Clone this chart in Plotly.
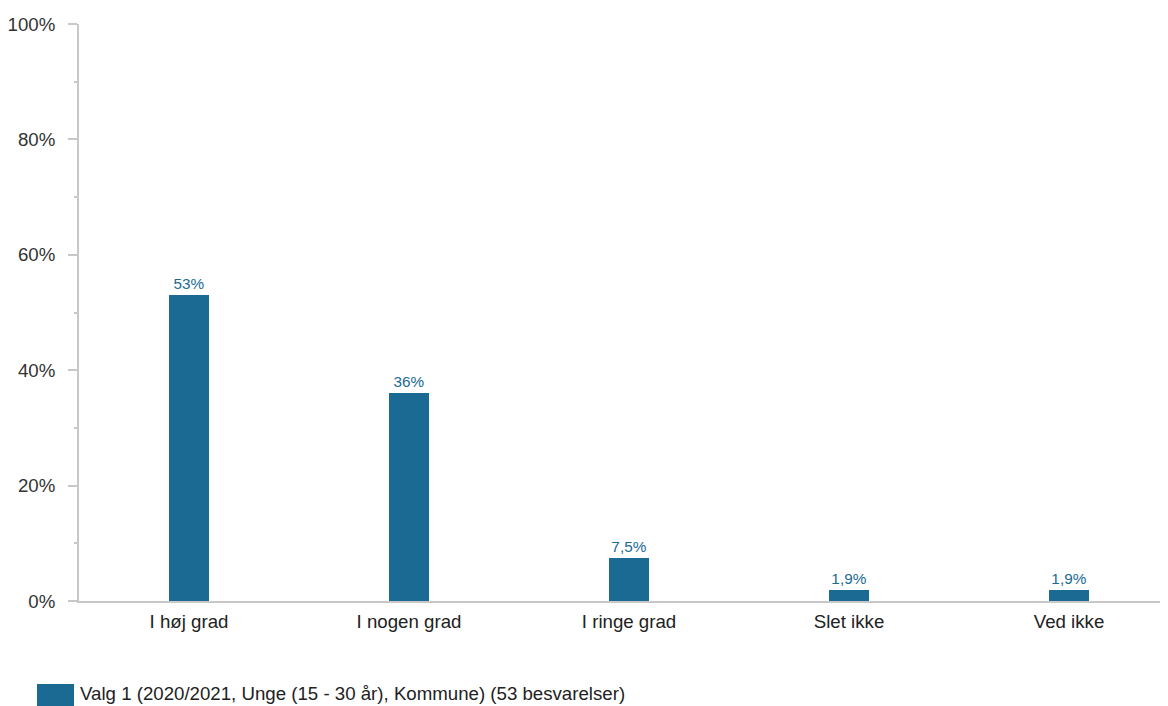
import plotly.graph_objects as go

categories = ["I høj grad", "I nogen grad", "I ringe grad", "Slet ikke", "Ved ikke"]
values = [53, 36, 7.5, 1.9, 1.9]
value_labels = ["53%", "36%", "7,5%", "1,9%", "1,9%"]
series_name = "Valg 1 (2020/2021, Unge (15 - 30 år), Kommune) (53 besvarelser)"
y_ticks = [0, 20, 40, 60, 80, 100]
y_tick_labels = ["0%", "20%", "40%", "60%", "80%", "100%"]

bar_color = "#1b6a93"
axis_color = "#c8c8c8"
font_family = "Liberation Sans, Arial, sans-serif"

# The page body adds an 8px offset, so the figure is 8px smaller and shifted.
OFF = 8
FIG_W, FIG_H = 1168 - OFF, 706 - OFF
PLOT_L, PLOT_R, PLOT_T, PLOT_B = 79 - OFF, 1168 - OFF, 24 - OFF, 601 - OFF
PW, PH = PLOT_R - PLOT_L, PLOT_B - PLOT_T

fig = go.Figure()
fig.add_trace(go.Bar(
    x=categories,
    y=values,
    name=series_name,
    marker=dict(color=bar_color, line=dict(width=0)),
    width=0.186,
    text=value_labels,
    textposition="outside",
    textfont=dict(color=bar_color, size=15.3, family=font_family),
    cliponaxis=False,
    showlegend=False,
))

fig.update_layout(
    width=FIG_W,
    height=FIG_H,
    margin=dict(l=PLOT_L, r=FIG_W - PLOT_R, t=PLOT_T, b=FIG_H - PLOT_B, autoexpand=False),
    plot_bgcolor="white",
    paper_bgcolor="white",
    font=dict(family=font_family, size=18.67, color="#333333"),
    bargap=0,
)

fig.update_xaxes(
    range=[-0.5, 4.45],
    automargin=False,
    showline=True,
    linecolor=axis_color,
    linewidth=2,
    showgrid=False,
    ticks="",
    ticklabelstandoff=3,
    tickfont=dict(size=18.67, color="#222222"),
    zeroline=False,
)

fig.update_yaxes(
    range=[0, 100],
    automargin=False,
    tickvals=y_ticks,
    ticktext=y_tick_labels,
    showline=True,
    linecolor=axis_color,
    linewidth=2,
    showgrid=False,
    zeroline=False,
    ticks="outside",
    ticklen=9,
    tickwidth=2,
    tickcolor=axis_color,
    ticklabelstandoff=9,
    tickfont=dict(size=18.67, color="#333333"),
    minor=dict(ticks="outside", ticklen=3, tickwidth=2, tickcolor=axis_color, dtick=10, tick0=0, showgrid=False),
)

# Legend drawn as swatch + text (matching the reference's wide swatch)
fig.add_shape(
    type="rect", xref="paper", yref="paper",
    x0=(37 - 79) / PW, x1=(74 - 79) / PW,
    y0=-(706 - 601) / PH, y1=-(684 - 601) / PH,
    fillcolor=bar_color, line=dict(width=0),
)
fig.add_annotation(
    xref="paper", yref="paper",
    x=(78 - 79) / PW, y=-(693 - 601) / PH,
    xanchor="left", yanchor="middle",
    text=series_name, showarrow=False,
    font=dict(size=18.67, color="#222222", family=font_family),
)

fig.write_html("out.html")
